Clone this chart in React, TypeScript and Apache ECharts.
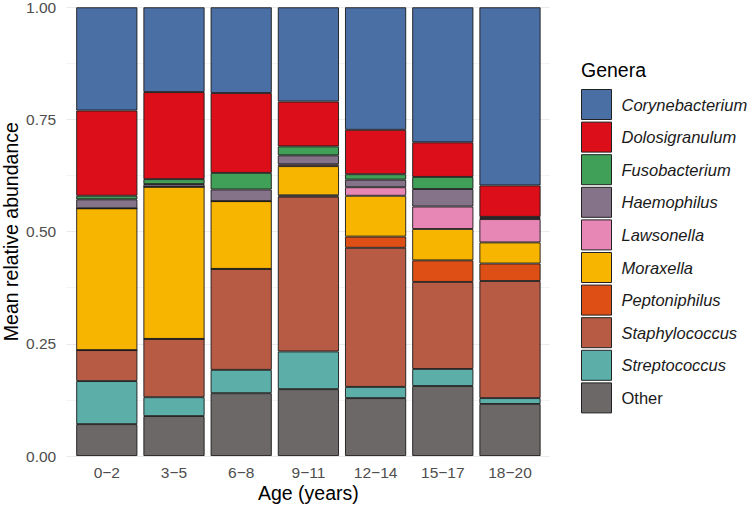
import React, { useEffect, useRef } from 'react';
import * as echarts from 'echarts';

const categories = ['0−2', '3−5', '6−8', '9−11', '12−14', '15−17', '18−20'];

// stacking order: bottom → top
const genera = [
  'Other',
  'Streptococcus',
  'Staphylococcus',
  'Peptoniphilus',
  'Moraxella',
  'Lawsonella',
  'Haemophilus',
  'Fusobacterium',
  'Dolosigranulum',
  'Corynebacterium',
];

const other = [0.071, 0.089, 0.14, 0.149, 0.129, 0.156, 0.116];
const streptococcus = [0.096, 0.042, 0.052, 0.084, 0.025, 0.038, 0.013];
const staphylococcus = [0.069, 0.13, 0.225, 0.345, 0.31, 0.194, 0.261];
const peptoniphilus = [0, 0, 0, 0.003, 0.025, 0.048, 0.039];
const moraxella = [0.316, 0.339, 0.151, 0.065, 0.091, 0.07, 0.047];
const lawsonella = [0, 0, 0, 0.004, 0.019, 0.05, 0.052];
const haemophilus = [0.02, 0.006, 0.026, 0.02, 0.017, 0.039, 0.003];
const fusobacterium = [0.008, 0.011, 0.037, 0.02, 0.012, 0.027, 0.002];
const dolosigranulum = [0.19, 0.194, 0.178, 0.1, 0.099, 0.077, 0.07];
const corynebacterium = [0.23, 0.189, 0.191, 0.21, 0.273, 0.301, 0.397];

const seriesValues = [
  other,
  streptococcus,
  staphylococcus,
  peptoniphilus,
  moraxella,
  lawsonella,
  haemophilus,
  fusobacterium,
  dolosigranulum,
  corynebacterium,
];

const colors = [
  '#6B6867',
  '#5BAFA8',
  '#B75B44',
  '#DE4F15',
  '#F8B500',
  '#E787B5',
  '#85738A',
  '#40A057',
  '#DC0E19',
  '#4A6FA5',
];

const yTicks = [0, 0.25, 0.5, 0.75, 1];

const FONT = "'Liberation Sans', Arial, Helvetica, sans-serif";

export default function App() {
  const ref = useRef<HTMLDivElement>(null);
  useEffect(() => {
    const chart = echarts.init(ref.current!, null, { renderer: 'svg' });
    const gridTop = 7.3;
    const gridBottom = 50;
    chart.setOption({
      animation: false,
      backgroundColor: '#ffffff',
      textStyle: { fontFamily: FONT },
      title: {
        text: 'Genera',
        left: 581,
        top: 60,
        padding: 0,
        textStyle: { fontFamily: FONT, fontSize: 19.5, fontWeight: 'normal', color: '#000' },
      },
      legend: {
        orient: 'vertical',
        left: 581,
        top: 89,
        padding: 0,
        itemWidth: 30,
        itemHeight: 30,
        itemGap: 1.6,
        icon: 'rect',
        data: [...genera].reverse(),
        itemStyle: { borderColor: '#222', borderWidth: 1 },
        formatter: (name: string) => (name === 'Other' ? `{n|${name}}` : `{i|${name}}`),
        textStyle: {
          fontFamily: FONT,
          fontSize: 16.5,
          color: '#1a1a1a',
          padding: [0, 0, 0, 5],
          rich: {
            i: { fontStyle: 'italic', fontSize: 16.5, fontFamily: FONT, color: '#1a1a1a' },
            n: { fontSize: 16.5, fontFamily: FONT, color: '#1a1a1a' },
          },
        },
      },
      grid: [
        { left: 73.2, width: 470.4, top: gridTop, bottom: gridBottom, outerBoundsMode: 'none', containLabel: false },
        { left: 66.5, width: 483.5, top: gridTop, bottom: gridBottom, outerBoundsMode: 'none', containLabel: false },
      ],
      xAxis: [
        {
          type: 'category',
          gridIndex: 0,
          data: categories,
          axisLine: { show: false },
          axisTick: { show: false },
          axisLabel: { color: '#4d4d4d', fontSize: 15.5, fontFamily: FONT, margin: 8 },
          name: 'Age (years)',
          nameLocation: 'middle',
          nameGap: 27,
          nameMoveOverlap: false,
          nameTextStyle: { color: '#000', fontSize: 19.5, fontFamily: FONT },
          z: 3,
        },
        {
          type: 'value',
          gridIndex: 1,
          show: false,
          min: 0,
          max: 1,
        },
      ],
      yAxis: [
        {
          type: 'value',
          gridIndex: 0,
          min: 0,
          max: 1,
          interval: 0.25,
          axisLine: { show: false },
          axisTick: { show: false },
          splitLine: { show: false },
          axisLabel: {
            color: '#4d4d4d',
            fontSize: 15.5,
            fontFamily: FONT,
            margin: 17,
            formatter: (v: number) => (yTicks.includes(v) ? v.toFixed(2) : ''),
          },
          name: 'Mean relative abundance',
          nameLocation: 'middle',
          nameGap: 52,
          nameMoveOverlap: false,
          nameTextStyle: { color: '#000', fontSize: 19.5, fontFamily: FONT, lineHeight: 20 },
        },
        {
          type: 'value',
          gridIndex: 1,
          min: 0,
          max: 1,
          interval: 0.25,
          axisLine: { show: false },
          axisTick: { show: false },
          axisLabel: { show: false },
          splitLine: { show: true, lineStyle: { color: '#ebebeb', width: 1 } },
          minorTick: { show: false, splitNumber: 2 },
          minorSplitLine: { show: true, lineStyle: { color: '#f1f1f1', width: 0.8 } },
        },
      ],
      series: genera.map((g, i) => ({
        name: g,
        type: 'bar',
        stack: 'total',
        xAxisIndex: 0,
        yAxisIndex: 0,
        barWidth: '91%',
        data: seriesValues[i],
        itemStyle: { color: colors[i], borderColor: '#1a1a1a', borderWidth: 0.9 },
        emphasis: { disabled: true },
        z: 5,
      })),
    });
    return () => chart.dispose();
  }, []);
  return (
    <div
      ref={ref}
      style={{ position: 'fixed', left: 0, top: 0, width: 749, height: 506, background: '#fff' }}
    />
  );
}
